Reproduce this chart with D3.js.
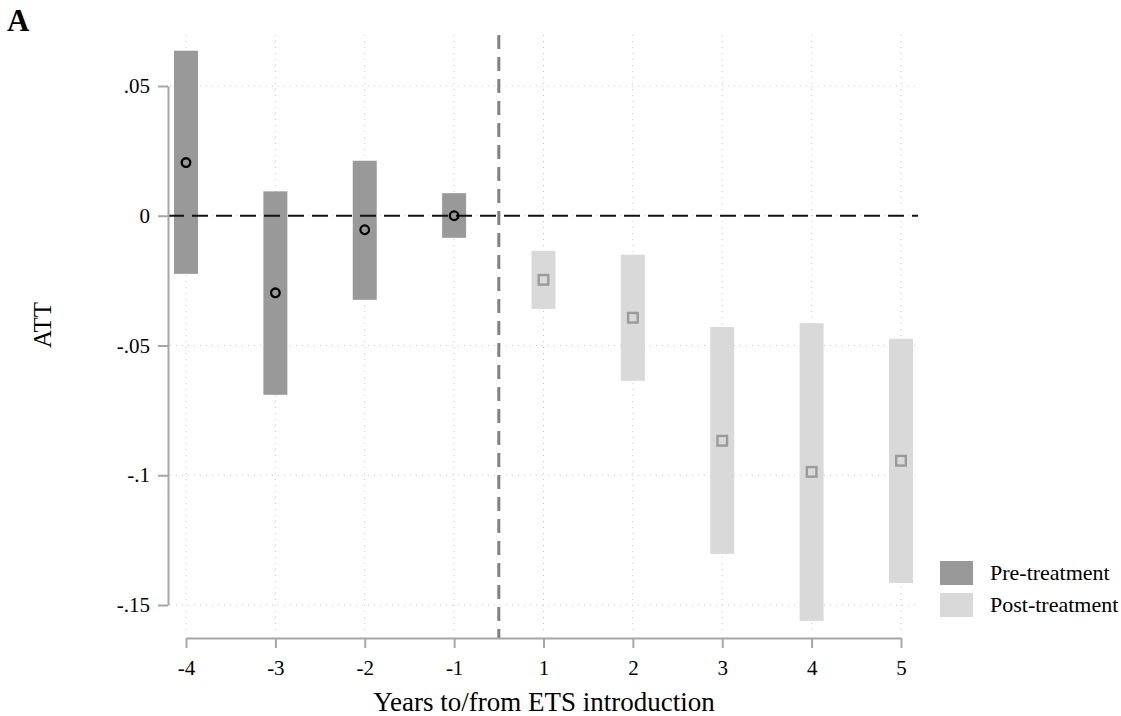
<!DOCTYPE html>
<html>
<head>
<meta charset="utf-8">
<script src="https://cdn.jsdelivr.net/npm/d3@7"></script>
<style>
  body { margin: 0; background: #fff; }
  svg text { font-family: "Liberation Serif", "Times New Roman", serif; fill: #000; }
</style>
</head>
<body>
<svg id="chart" width="1121" height="716"></svg>
<script>
// event-study estimates
const periods = ['-4', '-3', '-2', '-1', '1', '2', '3', '4', '5'];
const att   = [0.0205, -0.0297, -0.0054, 0.0000, -0.0247, -0.0393, -0.0867, -0.0987, -0.0944];
const upper = [0.0636,  0.0094,  0.0212, 0.0087, -0.0135, -0.0150, -0.0429, -0.0414, -0.0474];
const lower = [-0.0224, -0.0690, -0.0324, -0.0085, -0.0359, -0.0636, -0.1303, -0.1561, -0.1415];
const phase = ['pre', 'pre', 'pre', 'pre', 'post', 'post', 'post', 'post', 'post'];
const yTicks = [0.05, 0, -0.05, -0.1, -0.15];
const yTickLabels = ['.05', '0', '-.05', '-.1', '-.15'];
const legendItems = [{key: 'pre', label: 'Pre-treatment'}, {key: 'post', label: 'Post-treatment'}];

const data = periods.map((p, i) => ({
  period: p, att: att[i], hi: upper[i], lo: lower[i], phase: phase[i]
}));

const fill = {pre: '#999999', post: '#d9d9d9'};
const axisColor = '#a6a6a6';
const gridColor = '#c8c8c8';

const svg = d3.select('#chart');

const y = d3.scaleLinear().domain([-0.15, 0.05]).range([605, 86]);
const x = d3.scalePoint().domain(periods).range([186, 901]);
const plotLeft = 168, plotRight = 918, plotTop = 35, plotBottom = 632;

// gridlines
svg.append('g')
  .selectAll('line')
  .data(yTicks)
  .join('line')
  .attr('x1', plotLeft + 2).attr('x2', plotRight)
  .attr('y1', d => y(d)).attr('y2', d => y(d))
  .attr('stroke', gridColor).attr('stroke-width', 1)
  .attr('stroke-dasharray', '1,5');

svg.append('g')
  .selectAll('line')
  .data(periods)
  .join('line')
  .attr('x1', d => x(d)).attr('x2', d => x(d))
  .attr('y1', plotTop).attr('y2', plotBottom)
  .attr('stroke', gridColor).attr('stroke-width', 1)
  .attr('stroke-dasharray', '1,5');

// confidence bars
const barW = 24;
svg.append('g')
  .selectAll('rect')
  .data(data)
  .join('rect')
  .attr('x', d => x(d.period) - barW / 2)
  .attr('width', barW)
  .attr('y', d => y(d.hi))
  .attr('height', d => y(d.lo) - y(d.hi))
  .attr('fill', d => fill[d.phase]);

// zero reference line
svg.append('line')
  .attr('x1', plotLeft).attr('x2', plotRight)
  .attr('y1', y(0)).attr('y2', y(0))
  .attr('stroke', '#111').attr('stroke-width', 2)
  .attr('stroke-dasharray', '16,8');

// treatment line between -1 and 1
const xTreat = (x('-1') + x('1')) / 2;
svg.append('line')
  .attr('x1', xTreat).attr('x2', xTreat)
  .attr('y1', plotTop).attr('y2', 638)
  .attr('stroke', '#808080').attr('stroke-width', 3)
  .attr('stroke-dasharray', '14,8');

// point estimates
svg.append('g')
  .selectAll('circle')
  .data(data.filter(d => d.phase === 'pre'))
  .join('circle')
  .attr('cx', d => x(d.period))
  .attr('cy', d => y(d.att))
  .attr('r', 4.3)
  .attr('fill', 'none')
  .attr('stroke', '#000')
  .attr('stroke-width', 2.3);

svg.append('g')
  .selectAll('rect')
  .data(data.filter(d => d.phase === 'post'))
  .join('rect')
  .attr('x', d => x(d.period) - 4.8)
  .attr('y', d => y(d.att) - 4.8)
  .attr('width', 9.6).attr('height', 9.6)
  .attr('fill', 'none')
  .attr('stroke', '#9a9a9a')
  .attr('stroke-width', 2.4);

// axes
const yAxis = d3.axisLeft(y)
  .tickValues(yTicks)
  .tickFormat((d, i) => yTickLabels[i])
  .tickSize(10)
  .tickSizeOuter(0)
  .tickPadding(8);

const gy = svg.append('g')
  .attr('transform', `translate(${plotLeft},0)`)
  .call(yAxis);
gy.select('.domain').attr('stroke', axisColor).attr('stroke-width', 2);
gy.selectAll('.tick line').attr('stroke', axisColor).attr('stroke-width', 2);
gy.selectAll('.tick text').attr('font-size', 21);

const xAxis = d3.axisBottom(x)
  .tickSize(10)
  .tickSizeOuter(0)
  .tickPadding(12);

const gx = svg.append('g')
  .attr('transform', 'translate(0,638)')
  .call(xAxis);
gx.select('.domain').attr('stroke', axisColor).attr('stroke-width', 2);
gx.selectAll('.tick line').attr('stroke', axisColor).attr('stroke-width', 2);
gx.selectAll('.tick text').attr('font-size', 21);

// titles
svg.append('text')
  .attr('x', 544).attr('y', 711)
  .attr('text-anchor', 'middle')
  .attr('font-size', 27)
  .text('Years to/from ETS introduction');

svg.append('text')
  .attr('transform', 'translate(51,325) rotate(-90)')
  .attr('text-anchor', 'middle')
  .attr('font-size', 25)
  .text('ATT');

svg.append('text')
  .attr('x', 7).attr('y', 31)
  .attr('font-size', 31)
  .attr('font-weight', 'bold')
  .text('A');

// legend
const legend = svg.append('g').attr('transform', 'translate(940,561)');
const li = legend.selectAll('g')
  .data(legendItems)
  .join('g')
  .attr('transform', (d, i) => `translate(0,${i * 32})`);
li.append('rect')
  .attr('width', 33).attr('height', 24)
  .attr('fill', d => fill[d.key]);
li.append('text')
  .attr('x', 50).attr('y', 19)
  .attr('font-size', 22)
  .text(d => d.label);
</script>
</body>
</html>
